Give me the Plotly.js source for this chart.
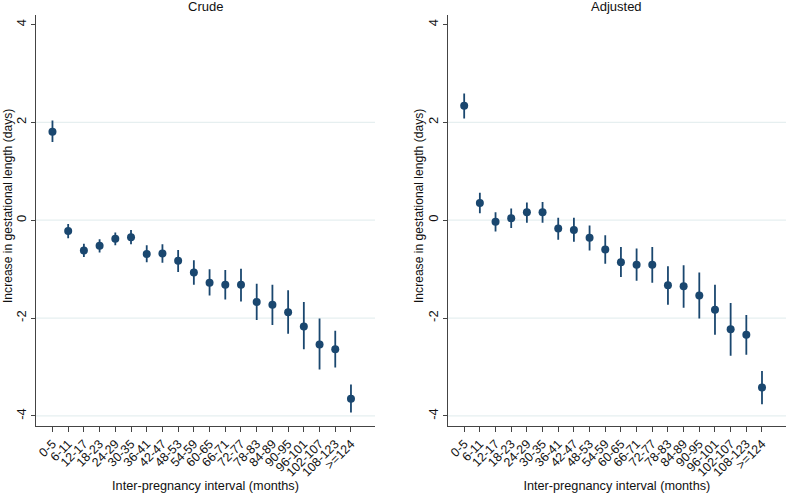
<!DOCTYPE html>
<html>
<head>
<meta charset="utf-8">
<script src="https://cdn.plot.ly/plotly-3.0.1.min.js"></script>
<style>html,body{margin:0;padding:0;background:#fff;}#chart{width:787px;height:493px;}</style>
</head>
<body>
<div id="chart"></div>
<script>
const categories = ["0-5","6-11","12-17","18-23","24-29","30-35","36-41","42-47","48-53","54-59","60-65","66-71","72-77","78-83","84-89","90-95","96-101","102-107","108-123",">=124"];
const crudeEst  = [1.81,-0.22,-0.62,-0.52,-0.38,-0.35,-0.69,-0.68,-0.83,-1.07,-1.28,-1.32,-1.32,-1.67,-1.73,-1.88,-2.17,-2.54,-2.64,-3.65];
const crudeLow  = [1.60,-0.37,-0.75,-0.66,-0.51,-0.49,-0.86,-0.87,-1.06,-1.32,-1.54,-1.62,-1.66,-2.04,-2.14,-2.32,-2.64,-3.05,-3.01,-3.93];
const crudeHigh = [2.04,-0.08,-0.48,-0.39,-0.25,-0.20,-0.51,-0.49,-0.61,-0.82,-1.00,-1.02,-0.99,-1.30,-1.32,-1.43,-1.67,-2.01,-2.26,-3.36];
const adjEst  = [2.34,0.35,-0.03,0.04,0.16,0.16,-0.17,-0.20,-0.36,-0.60,-0.86,-0.91,-0.91,-1.33,-1.35,-1.54,-1.83,-2.23,-2.34,-3.42];
const adjLow  = [2.08,0.14,-0.23,-0.16,-0.05,-0.05,-0.40,-0.44,-0.62,-0.89,-1.16,-1.24,-1.28,-1.73,-1.79,-2.01,-2.34,-2.77,-2.75,-3.76];
const adjHigh = [2.59,0.56,0.16,0.24,0.36,0.37,0.05,0.05,-0.11,-0.31,-0.55,-0.58,-0.55,-0.94,-0.92,-1.07,-1.32,-1.69,-1.94,-3.08];
const yTicks = [-4,-2,0,2,4];
const gridVals = [-4,-2,0,2];
const panelTitles = ["Crude","Adjusted"];
const xTitle = "Inter-pregnancy interval (months)";
const yTitle = "Increase in gestational length (days)";

const navy = "#1a476f";
function trace(est, lo, hi, xa, ya){
  return {
    type:"scatter", mode:"markers", x: categories.map((c,i)=>i), y: est,
    xaxis:xa, yaxis:ya,
    marker:{color:navy, size:8},
    error_y:{type:"data", symmetric:false,
      array: hi.map((h,i)=>h-est[i]), arrayminus: est.map((e,i)=>e-lo[i]),
      color:navy, thickness:1.8, width:0},
    hoverinfo:"x+y", showlegend:false
  };
}
const fam = "Arial, Liberation Sans, sans-serif";
const tickFont = {family:fam, size:12.5, color:"#111"};
const xTitleFont = {family:fam, size:12.7, color:"#111"};
const yTitleFont = {family:fam, size:12.1, color:"#111"};
function xax(domain, anchor){
  return {domain:domain, anchor:anchor, range:[-1.05,20.53], tickmode:"array",
    tickvals: categories.map((c,i)=>i), ticktext: categories, tickangle:-45,
    ticks:"outside", ticklen:5, tickcolor:"#444", tickwidth:1,
    showline:true, linecolor:"#444", linewidth:1, showgrid:false, zeroline:false,
    tickfont:tickFont, title:{text:xTitle, font:xTitleFont, standoff:7}};
}
function yax(anchor){
  return {domain:[0.1365,0.9702], anchor:anchor, range:[-4.2,4.2], tickmode:"array",
    tickvals:yTicks, ticktext:yTicks.map(String), tickangle:-90,
    ticks:"outside", ticklen:4, tickcolor:"#444", tickwidth:1,
    showline:true, linecolor:"#444", linewidth:1, showgrid:false, zeroline:false,
    tickfont:{family:fam, size:13, color:"#111"}};
}
const shapes = [];
[["x","y"],["x2","y2"]].forEach(([xa,ya])=>{
  gridVals.forEach(v=>shapes.push({type:"line", xref:xa+" domain", yref:ya, x0:0, x1:1, y0:v, y1:v,
    line:{color:"#e6eff0", width:1.2}, layer:"below"}));
});
const yTitleY = 1 - 206/493;
const layout = {
  width:787, height:493, margin:{l:0,r:0,t:0,b:0},
  paper_bgcolor:"#fff", plot_bgcolor:"#fff", font:tickFont,
  xaxis: xax([0.0457,0.4765],"y"),
  yaxis: yax("x"),
  xaxis2: xax([0.5689,0.9987],"y2"),
  yaxis2: yax("x2"),
  shapes: shapes,
  annotations: [
    {text:panelTitles[0], xref:"x domain", yref:"paper", x:0.5, y:1, yanchor:"top", showarrow:false, font:{family:fam,size:13,color:"#111"}, yshift:3},
    {text:panelTitles[1], xref:"x2 domain", yref:"paper", x:0.5, y:1, yanchor:"top", showarrow:false, font:{family:fam,size:13,color:"#111"}, yshift:3},
    {text:yTitle, xref:"paper", yref:"paper", x:8/787, y:yTitleY, xanchor:"center", yanchor:"middle", textangle:-90, showarrow:false, font:yTitleFont},
    {text:yTitle, xref:"paper", yref:"paper", x:419/787, y:yTitleY, xanchor:"center", yanchor:"middle", textangle:-90, showarrow:false, font:yTitleFont}
  ]
};
Plotly.newPlot("chart", [trace(crudeEst,crudeLow,crudeHigh,"x","y"), trace(adjEst,adjLow,adjHigh,"x2","y2")], layout, {displayModeBar:false, staticPlot:true});
</script>
</body>
</html>
